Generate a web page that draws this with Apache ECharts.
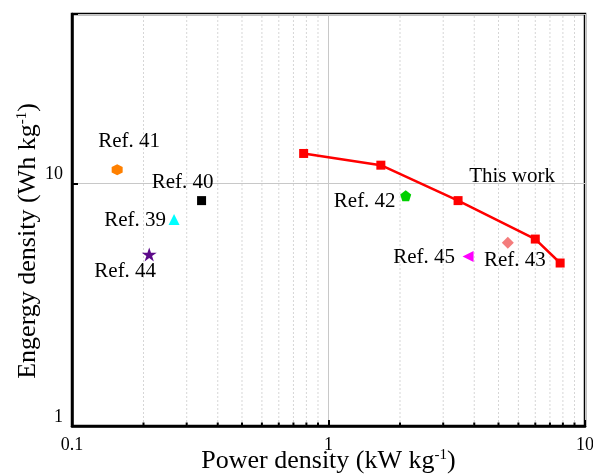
<!DOCTYPE html>
<html>
<head>
<meta charset="utf-8">
<script src="https://cdn.jsdelivr.net/npm/echarts@6/dist/echarts.min.js"></script>
<style>
  html, body { margin: 0; padding: 0; background: #fff; }
  #chart { width: 593px; height: 474px; }
</style>
</head>
<body>
<div id="chart"></div>
<script>
// ---------- DATA ----------
const thisWorkName = 'This work';
const thisWorkX = [0.8, 1.6, 3.2, 6.4, 8.0];
const thisWorkY = [13.3, 11.9, 8.5, 5.9, 4.7];

const refNames = ['Ref. 39', 'Ref. 40', 'Ref. 41', 'Ref. 42', 'Ref. 43', 'Ref. 44', 'Ref. 45'];
const refX = [0.25, 0.32, 0.15, 2.0, 5.0, 0.2, 3.5];
const refY = [7.1, 8.5, 11.4, 8.9, 5.7, 5.1, 5.0];

const xMajorTicks = [0.1, 1, 10];
const yMajorTicks = [1, 10];
const xMinorTicks = [0.19, 0.28, 0.37, 0.46, 0.55, 0.64, 0.73, 0.82, 0.91,
                     1.9, 2.8, 3.7, 4.6, 5.5, 6.4, 7.3, 8.2, 9.1];
const yMinorTicks = [1.9, 2.8, 3.7, 4.6, 5.5, 6.4, 7.3, 8.2, 9.1,
                     19, 28, 37, 46];
const xRange = [0.1, 10];
const yRange = [1, 50];

// ---------- STYLE ----------
const FONT = "'Times New Roman', 'Liberation Serif', serif";
const STAR = 'path://M0,-1 L0.2245,-0.309 L0.951,-0.309 L0.363,0.118 L0.588,0.809 L0,0.382 L-0.588,0.809 L-0.363,0.118 L-0.951,-0.309 L-0.2245,-0.309 Z';
const HEX = 'path://M0,-1 L0.866,-0.5 L0.866,0.5 L0,1 L-0.866,0.5 L-0.866,-0.5 Z';
const PENT = 'path://M0,-1 L0.951,-0.309 L0.588,0.809 L-0.588,0.809 L-0.951,-0.309 Z';
const refStyles = {
  'Ref. 39': { symbol: 'triangle', size: 11, rotate: 0, color: '#00ffff', offset: [-39, 1] },
  'Ref. 40': { symbol: 'rect', size: 9, rotate: 0, color: '#000000', offset: [-19, -18] },
  'Ref. 41': { symbol: HEX, size: [11, 11], rotate: 0, color: '#ff8000', offset: [12, -28] },
  'Ref. 42': { symbol: PENT, size: [11, 11], rotate: 0, color: '#00d000', offset: [-41, 6] },
  'Ref. 43': { symbol: 'diamond', size: 12, rotate: 0, color: '#f47c7c', offset: [7, 18] },
  'Ref. 44': { symbol: STAR, size: [15, 14], rotate: 0, color: '#5c0a8a', offset: [-24, 17] },
  'Ref. 45': { symbol: 'triangle', size: 11, rotate: 90, color: '#ff00ff', offset: [-44, 1] }
};
const thisWorkLabelIndex = 2;
const thisWorkLabelOffset = [54, -24];
const LABEL_SIZE = 21;
const TITLE_SIZE = 26;
const SUP_SIZE = 15;

const chart = echarts.init(document.getElementById('chart'), null, { renderer: 'canvas' });

function minorRender(isX) {
  return function (params, api) {
    const v = api.value(0);
    let a, b, t1, t2;
    if (isX) {
      a = api.coord([v, yRange[0]]);
      b = api.coord([v, yRange[1]]);
      t1 = a; t2 = [a[0], a[1] - 3.5];
    } else {
      a = api.coord([xRange[0], v]);
      b = api.coord([xRange[1], v]);
      t1 = a; t2 = [a[0] + 3.5, a[1]];
    }
    return {
      type: 'group',
      children: [
        { type: 'line', shape: { x1: a[0], y1: a[1], x2: b[0], y2: b[1] },
          style: { stroke: '#d6d6d6', lineWidth: 1, lineDash: [2, 2] }, silent: true, z2: 0 },
        { type: 'line', shape: { x1: t1[0], y1: t1[1], x2: t2[0], y2: t2[1] },
          style: { stroke: '#000', lineWidth: 2 }, silent: true, z2: 10 }
      ]
    };
  };
}

const series = [];
series.push({
  type: 'custom', name: 'xminor', renderItem: minorRender(true),
  data: xMinorTicks.map(v => [v, yRange[0]]), z: 1, silent: true, clip: false
});
series.push({
  type: 'custom', name: 'yminor', renderItem: minorRender(false),
  data: yMinorTicks.map(v => [xRange[0], v]), z: 1, silent: true, clip: false
});

refNames.forEach((n, i) => {
  const s = refStyles[n];
  series.push({
    type: 'scatter', name: n,
    data: [[refX[i], refY[i]]],
    symbol: s.symbol, symbolSize: s.size, symbolRotate: s.rotate,
    itemStyle: { color: s.color, opacity: 1 },
    label: {
      show: true, position: 'inside', offset: s.offset, formatter: n,
      color: '#000', fontFamily: FONT, fontSize: LABEL_SIZE, align: 'center', verticalAlign: 'middle'
    },
    z: 5
  });
});

series.push({
  type: 'line', name: thisWorkName,
  data: thisWorkX.map((x, i) => {
    const item = { value: [x, thisWorkY[i]] };
    if (i === thisWorkLabelIndex) {
      item.label = {
        show: true, position: 'inside', offset: thisWorkLabelOffset, formatter: thisWorkName,
        color: '#000', fontFamily: FONT, fontSize: LABEL_SIZE, align: 'center', verticalAlign: 'middle'
      };
    }
    return item;
  }),
  symbol: 'rect', symbolSize: 9, showAllSymbol: true,
  lineStyle: { color: '#ff0000', width: 2.5 },
  itemStyle: { color: '#ff0000' },
  label: { show: false },
  z: 6
});

const supRich = { sup: { fontFamily: FONT, fontSize: SUP_SIZE, color: '#000', verticalAlign: 'top', padding: [0, 0, 9, 0] } };

const option = {
  animation: false,
  backgroundColor: '#fff',
  grid: { left: 72, top: 14, right: 8, bottom: 48, containLabel: false, outerBoundsMode: 'none',
    show: true, borderColor: '#000', borderWidth: 2.5, backgroundColor: 'transparent' },
  xAxis: {
    type: 'log', logBase: 10, min: xRange[0], max: xRange[1],
    name: 'Power density (kW kg{sup|-1})', nameLocation: 'middle', nameGap: 22, nameMoveOverlap: false,
    nameTextStyle: { fontFamily: FONT, fontSize: TITLE_SIZE, color: '#000', rich: supRich },
    axisLine: { show: true, lineStyle: { color: '#000', width: 2.5 } },
    axisTick: { show: true, inside: true, length: 6, lineStyle: { color: '#000', width: 2 } },
    axisLabel: { show: true, fontFamily: FONT, fontSize: 18, color: '#000', margin: 10,
      formatter: v => String(xMajorTicks.find(t => Math.abs(t - v) / t < 1e-6) ?? v) },
    splitLine: { show: true, lineStyle: { color: '#c8c8c8', width: 1 } },
    minorTick: { show: false }, minorSplitLine: { show: false }
  },
  yAxis: {
    type: 'log', logBase: 10, min: yRange[0], max: yRange[1],
    name: 'Engergy density (Wh kg{sup|-1})', nameLocation: 'middle', nameGap: 31, nameRotate: 90, nameMoveOverlap: false,
    nameTextStyle: { fontFamily: FONT, fontSize: TITLE_SIZE, color: '#000', rich: supRich, padding: [0, 42, 0, 0] },
    axisLine: { show: true, lineStyle: { color: '#000', width: 2.5 } },
    axisTick: { show: true, inside: true, length: 6, lineStyle: { color: '#000', width: 2 } },
    axisLabel: { show: true, fontFamily: FONT, fontSize: 18, color: '#000', margin: 9, verticalAlign: 'bottom',
      formatter: v => (yMajorTicks.some(t => Math.abs(t - v) / t < 1e-6) ? String(Math.round(v)) : '') },
    splitLine: { show: true, lineStyle: { color: '#c8c8c8', width: 1 } },
    minorTick: { show: false }, minorSplitLine: { show: false }
  },
  series: series
};
chart.setOption(option);
</script>
</body>
</html>
